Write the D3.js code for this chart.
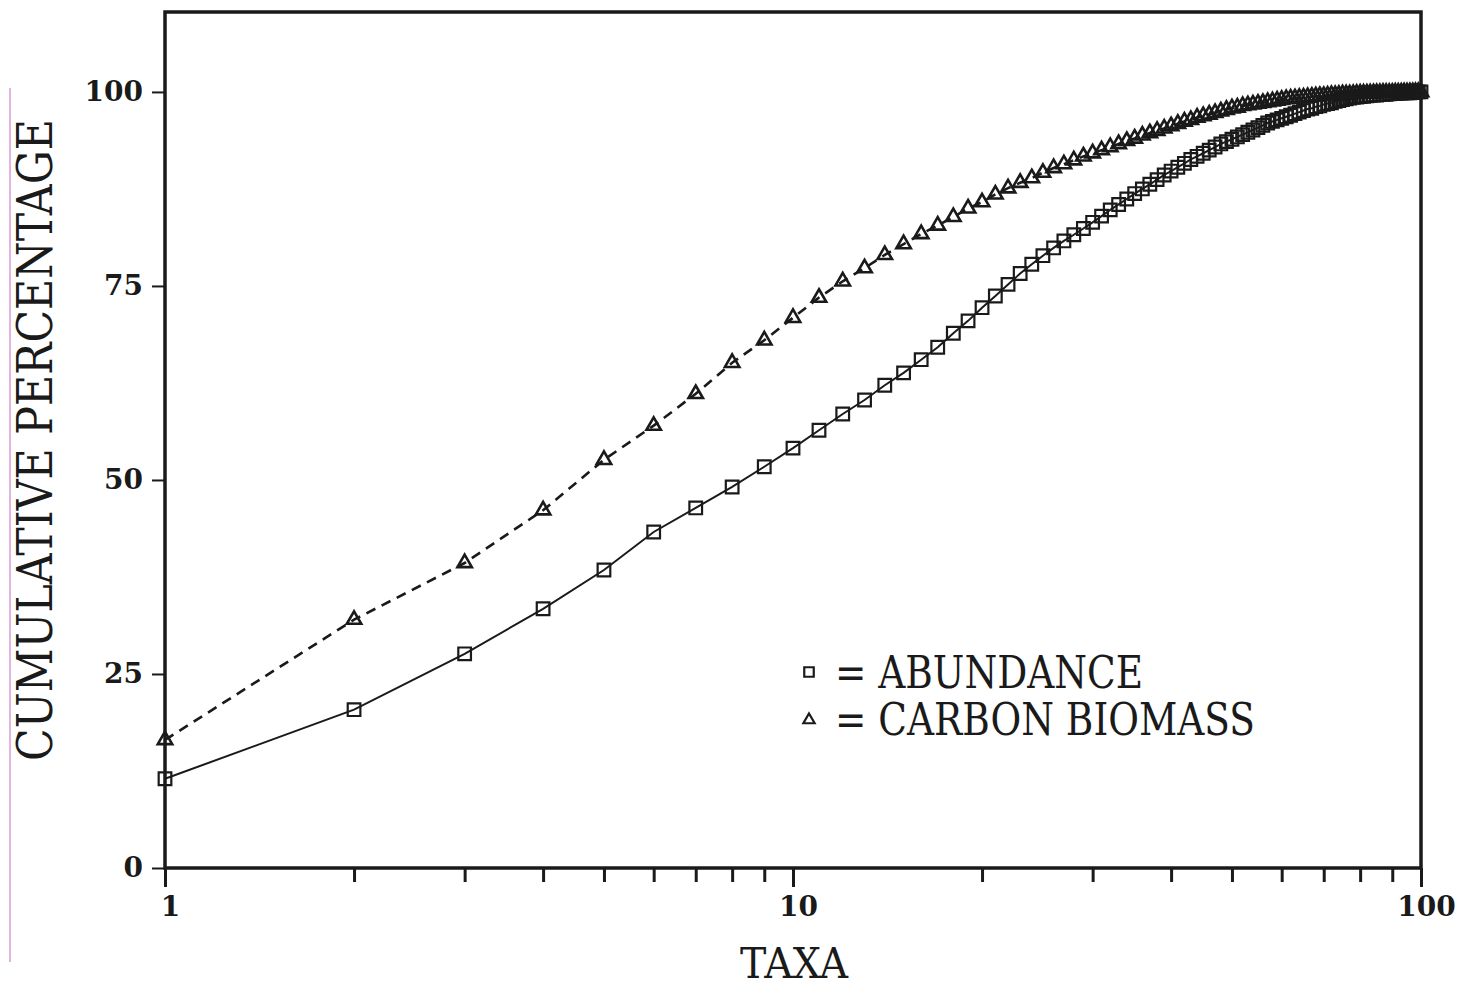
<!DOCTYPE html>
<html>
<head>
<meta charset="utf-8">
<script src="https://cdn.jsdelivr.net/npm/d3@7"></script>
<style>
  body { margin: 0; background: #fff; }
  svg { display: block; }
</style>
</head>
<body>
<div id="chart"></div>
<script>
"use strict";

// taxa rank (1..100)
const taxa = d3.range(1, 101);

// cumulative percentage, abundance (squares)
const abundance = [
  11.5, 20.4, 27.6, 33.4, 38.4, 43.3, 46.4, 49.1, 51.7, 54.1,
  56.4, 58.5, 60.3, 62.2, 63.8, 65.5, 67.1, 68.9, 70.5, 72.2,
  73.7, 75.2, 76.6, 77.8, 78.9, 79.9, 80.8, 81.6, 82.4, 83.2,
  84.0, 84.8, 85.5, 86.2, 86.9, 87.5, 88.1, 88.7, 89.3, 89.8,
  90.3, 90.8, 91.3, 91.7, 92.1, 92.5, 92.9, 93.3, 93.6, 93.9,
  94.2, 94.5, 94.8, 95.1, 95.4, 95.7, 96.0, 96.2, 96.4, 96.6,
  96.8, 97.0, 97.2, 97.4, 97.6, 97.8, 97.9, 98.1, 98.2, 98.4,
  98.5, 98.6, 98.8, 98.9, 99.0, 99.1, 99.2, 99.3, 99.35, 99.4,
  99.45, 99.5, 99.55, 99.6, 99.6, 99.65, 99.7, 99.7, 99.75, 99.8,
  99.8, 99.85, 99.85, 99.9, 99.9, 99.9, 99.95, 99.95, 100, 100
];

// cumulative percentage, carbon biomass (triangles)
const biomass = [
  16.5, 32.0, 39.3, 46.1, 52.6, 57.0, 61.1, 65.1, 68.0, 70.9,
  73.5, 75.6, 77.3, 79.0, 80.4, 81.7, 82.8, 83.9, 85.0, 85.8,
  86.8, 87.6, 88.3, 88.9, 89.6, 90.2, 90.7, 91.2, 91.7, 92.1,
  92.5, 92.9, 93.3, 93.7, 94.0, 94.4, 94.7, 95.0, 95.3, 95.6,
  95.9, 96.2, 96.4, 96.7, 96.9, 97.1, 97.3, 97.5, 97.7, 97.9,
  98.0, 98.2, 98.3, 98.4, 98.5, 98.6, 98.7, 98.8, 98.9, 99.0,
  99.1, 99.15, 99.2, 99.25, 99.3, 99.35, 99.4, 99.45, 99.5, 99.5,
  99.55, 99.6, 99.6, 99.65, 99.7, 99.7, 99.72, 99.75, 99.78, 99.8,
  99.8, 99.82, 99.84, 99.85, 99.86, 99.88, 99.9, 99.9, 99.9, 99.92,
  99.93, 99.94, 99.95, 99.96, 99.97, 99.98, 99.98, 99.99, 100, 100
];

const xMajorTicks = [1, 10, 100];
const xMinorTicks = [2, 3, 4, 5, 6, 7, 8, 9, 20, 30, 40, 50, 60, 70, 80, 90];
const yTicks = [0, 25, 50, 75, 100];

const svgWidth = 1460;
const svgHeight = 987;
const plotLeft = 165, plotRight = 1421, plotTop = 12, plotBottom = 868;
const ink = "#1a1a1a";
const serif = "'DejaVu Serif', 'Liberation Serif', serif";

const svg = d3.select("#chart")
  .append("svg")
  .attr("width", svgWidth)
  .attr("height", svgHeight);

const xScale = d3.scaleLog()
  .domain([1, 100])
  .range([plotLeft, plotRight]);

const yScale = d3.scaleLinear()
  .domain([0, 110.3])
  .range([plotBottom, plotTop]);

// faint pink scanning line along the left margin
svg.append("line")
  .attr("x1", 10).attr("x2", 10)
  .attr("y1", 88).attr("y2", 962)
  .attr("stroke", "#e4b4e0")
  .attr("stroke-width", 2);

// minor x ticks
svg.append("g")
  .attr("transform", `translate(0, ${plotBottom})`)
  .call(d3.axisBottom(xScale).tickValues(xMinorTicks).tickSize(14).tickFormat(""))
  .call(g => g.select(".domain").remove())
  .call(g => g.selectAll("line").attr("stroke", ink).attr("stroke-width", 3));

// major x ticks with labels
svg.append("g")
  .attr("transform", `translate(0, ${plotBottom})`)
  .call(d3.axisBottom(xScale).tickValues(xMajorTicks).tickSize(19).tickFormat(d3.format("d")))
  .call(g => g.select(".domain").remove())
  .call(g => g.selectAll("line").attr("stroke", ink).attr("stroke-width", 3))
  .call(g => g.selectAll("text")
    .attr("y", 48).attr("dy", 0).attr("dx", 5)
    .attr("fill", ink)
    .style("font-family", serif)
    .style("font-weight", "bold")
    .style("font-size", "28px"));

// y axis
svg.append("g")
  .attr("transform", `translate(${plotLeft}, 0)`)
  .call(d3.axisLeft(yScale).tickValues(yTicks).tickSize(13).tickPadding(9))
  .call(g => g.select(".domain").remove())
  .call(g => g.selectAll("line").attr("stroke", ink).attr("stroke-width", 2))
  .call(g => g.selectAll("text")
    .attr("fill", ink)
    .style("font-family", serif)
    .style("font-weight", "bold")
    .style("font-size", "28px"));

// frame
svg.append("rect")
  .attr("x", plotLeft).attr("y", plotTop)
  .attr("width", plotRight - plotLeft).attr("height", plotBottom - plotTop)
  .attr("fill", "none")
  .attr("stroke", ink)
  .attr("stroke-width", 3.5);

const abundanceData = taxa.map((t, i) => ({ x: t, y: abundance[i] }));
const biomassData = taxa.map((t, i) => ({ x: t, y: biomass[i] }));

const line = d3.line()
  .x(d => xScale(d.x))
  .y(d => yScale(d.y));

svg.append("path")
  .datum(abundanceData)
  .attr("d", line)
  .attr("fill", "none")
  .attr("stroke", ink)
  .attr("stroke-width", 2);

svg.append("path")
  .datum(biomassData)
  .attr("d", line)
  .attr("fill", "none")
  .attr("stroke", ink)
  .attr("stroke-width", 2.6)
  .attr("stroke-dasharray", "10,7");

const square = d3.symbol().type(d3.symbolSquare).size(160);
const triangle = d3.symbol().type(d3.symbolTriangle).size(90);

svg.append("g")
  .selectAll("path")
  .data(abundanceData)
  .enter()
  .append("path")
  .attr("d", square)
  .attr("transform", d => `translate(${xScale(d.x)}, ${yScale(d.y)})`)
  .attr("fill", "none")
  .attr("stroke", ink)
  .attr("stroke-width", 2.2);

svg.append("g")
  .selectAll("path")
  .data(biomassData)
  .enter()
  .append("path")
  .attr("d", triangle)
  .attr("transform", d => `translate(${xScale(d.x)}, ${yScale(d.y)})`)
  .attr("fill", "none")
  .attr("stroke", ink)
  .attr("stroke-width", 2.6);

// legend
const legend = svg.append("g");
legend.append("path")
  .attr("d", d3.symbol().type(d3.symbolSquare).size(90))
  .attr("transform", "translate(809, 672)")
  .attr("fill", "none").attr("stroke", ink).attr("stroke-width", 2.2);
legend.append("path")
  .attr("d", d3.symbol().type(d3.symbolTriangle).size(55))
  .attr("transform", "translate(809, 720)")
  .attr("fill", "none").attr("stroke", ink).attr("stroke-width", 2.2);

[["= ABUNDANCE", 688, 308], ["= CARBON BIOMASS", 735, 420]].forEach(([label, yPos, len]) => {
  legend.append("text")
    .attr("x", 835).attr("y", yPos)
    .attr("textLength", len)
    .attr("lengthAdjust", "spacingAndGlyphs")
    .attr("fill", ink)
    .style("font-family", serif)
    .style("font-size", "44px")
    .text(label);
});

// axis titles
svg.append("text")
  .attr("x", 794).attr("y", 978)
  .attr("text-anchor", "middle")
  .attr("textLength", 108)
  .attr("lengthAdjust", "spacingAndGlyphs")
  .attr("fill", ink)
  .style("font-family", serif)
  .style("font-size", "43px")
  .text("TAXA");

svg.append("text")
  .attr("transform", "translate(52, 440) rotate(-90)")
  .attr("text-anchor", "middle")
  .attr("textLength", 642)
  .attr("lengthAdjust", "spacingAndGlyphs")
  .attr("fill", ink)
  .style("font-family", serif)
  .style("font-size", "48px")
  .text("CUMULATIVE PERCENTAGE");
</script>
</body>
</html>
